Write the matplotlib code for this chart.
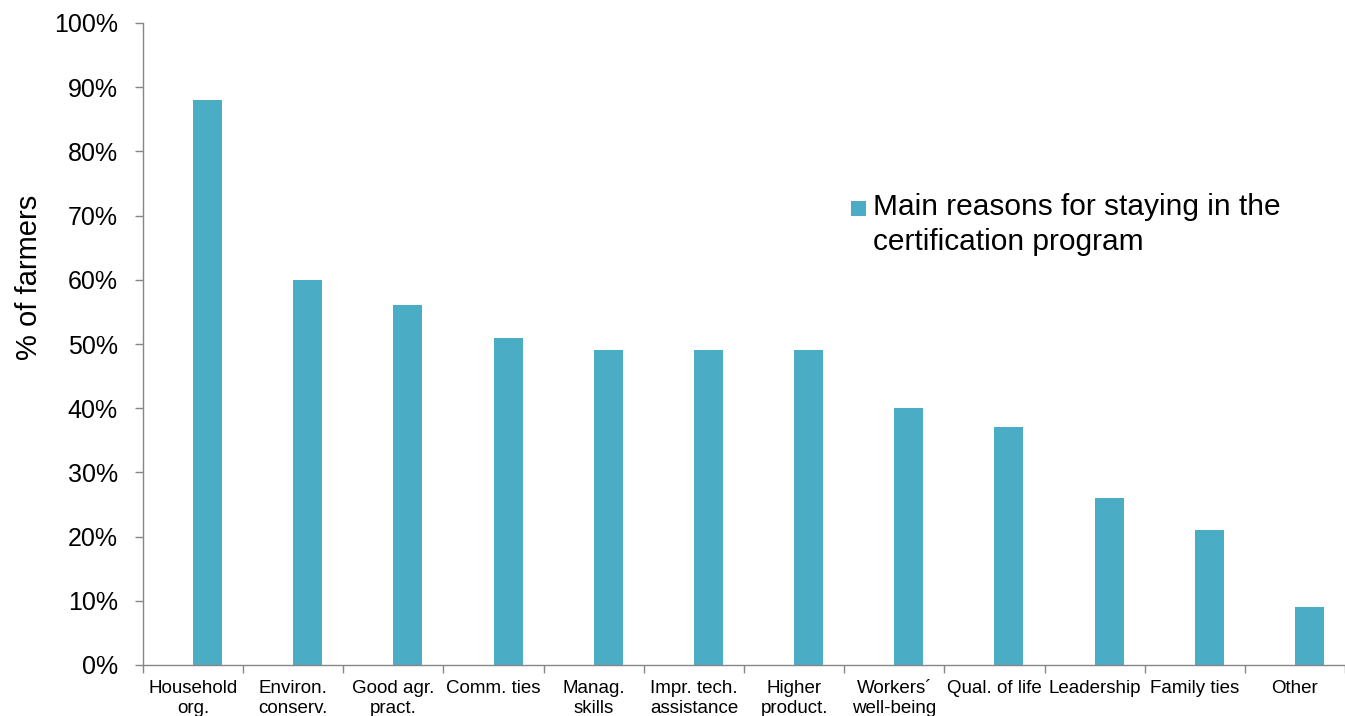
import numpy as np
import matplotlib
matplotlib.use("Agg")
import matplotlib.pyplot as plt
from matplotlib.ticker import PercentFormatter
from matplotlib.patches import Rectangle
from matplotlib.container import BarContainer
from matplotlib.legend_handler import HandlerPatch

plt.rcParams['font.family'] = ['Liberation Sans', 'DejaVu Sans']

#----------- Data ----------------
categories = ["Household\norg.", "Environ.\nconserv.", "Good agr.\npract.", "Comm. ties",
              "Manag.\nskills", "Impr. tech.\nassistance", "Higher\nproduct.",
              "Workers\u00b4\nwell-being", "Qual. of life", "Leadership", "Family ties", "Other"]
values = [88, 60, 56, 51, 49, 49, 49, 40, 37, 26, 21, 9]
series_label = "Main reasons for staying in the\ncertification program"

BAR_COLOR = "#4BACC6"
AXIS_COLOR = "#868686"


# legend square sits next to the first line of the label, like excel does
def top_square(legend, orig_handle, xdescent, ydescent, width, height, fontsize):
    side = 0.5 * fontsize
    return Rectangle((-xdescent, -ydescent + height - side * 1.15), side, side)


def first_bar_style(tgt, src):
    tgt.update_from(src.patches[0])


fig = plt.figure(figsize=(13.45, 7.16), dpi=100)
ax = fig.add_axes([143 / 1345, 1 - 665 / 716, 1202 / 1345, (665 - 23) / 716])

x = np.arange(len(categories))
# bars start at the category centre (excel-style clustered bar with empty 2nd series)
ax.bar(x, values, width=0.29, align='edge', color=BAR_COLOR, label=series_label)

ax.set_xlim(-0.5, len(categories) - 0.5)
ax.set_ylim(0, 100)
ax.set_yticks(np.arange(0, 101, 10))
ax.yaxis.set_major_formatter(PercentFormatter(decimals=0))

# category labels in the middle, ticks on the boundaries
ax.set_xticks(x)
ax.set_xticklabels(categories, fontsize=13.5, linespacing=1.2, va='top')
ax.set_xticks(np.arange(-0.5, len(categories), 1), minor=True)
ax.tick_params(axis='x', which='major', length=0, pad=11)
ax.tick_params(axis='x', which='minor', length=6, color=AXIS_COLOR, width=1)
ax.tick_params(axis='y', length=6, color=AXIS_COLOR, width=1, labelsize=18, pad=12)

for s in ['top', 'right']:
    ax.spines[s].set_visible(False)
for s in ['left', 'bottom']:
    ax.spines[s].set_color(AXIS_COLOR)
    ax.spines[s].set_linewidth(1)

ax.set_ylabel("% of farmers", fontsize=21)
ax.yaxis.set_label_coords(-0.083, 0.604)

leg = ax.legend(loc='upper left', bbox_to_anchor=(851 / 1345, 1 - 193 / 716),
                bbox_transform=fig.transFigure, frameon=False, fontsize=21.5,
                handlelength=0.5, handleheight=2.4, handletextpad=0.25,
                borderaxespad=0, borderpad=0,
                handler_map={BarContainer: HandlerPatch(patch_func=top_square,
                                                        update_func=first_bar_style)})
for t in leg.get_texts():
    t.set_linespacing(1.3)

fig.savefig("out.png", dpi=100)
